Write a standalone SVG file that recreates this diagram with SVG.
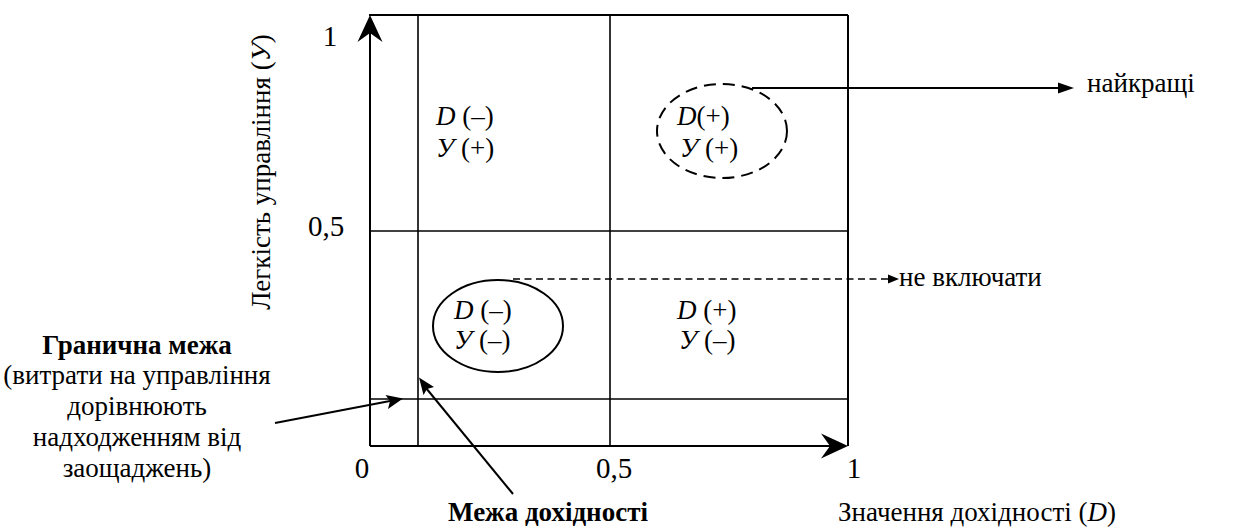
<svg xmlns="http://www.w3.org/2000/svg" width="1236" height="529" viewBox="0 0 1236 529" font-family="Liberation Serif, Times New Roman, serif">
<style>
text{font-size:27px;fill:#000}
.num{font-size:29px}
.b{font-weight:bold}
.i{font-style:italic}
.ax{stroke:#000;stroke-width:2;fill:none}
.g{stroke:#000;stroke-width:1.6;fill:none}
.c{stroke:#000;stroke-width:2;fill:none}
.hd{fill:#000;stroke:none}
</style>
<rect width="1236" height="529" fill="#fff"/>
<g id="axes">
<line class="ax" x1="370" y1="446" x2="370" y2="30"/>
<polygon class="hd" points="370,15 357.5,42 370,33 382.5,42"/>
<line class="ax" x1="370" y1="446" x2="832" y2="446"/>
<polygon class="hd" points="848,446 821,433.5 830,446 821,458.5"/>
<line class="ax" x1="369" y1="15" x2="848" y2="15"/>
<line class="ax" x1="848" y1="15" x2="848" y2="446"/>
</g>
<g id="grid">
<line class="g" x1="418" y1="15" x2="418" y2="446"/>
<line class="g" x1="610" y1="15" x2="610" y2="446"/>
<line class="g" x1="370" y1="231" x2="848" y2="231"/>
<line class="g" x1="370" y1="399" x2="848" y2="399"/>
</g>
<g id="tick-labels">
<text class="num" x="330" y="46" text-anchor="middle">1</text>
<text class="num" x="326" y="236" text-anchor="middle">0,5</text>
<text class="num" x="362" y="478" text-anchor="middle">0</text>
<text class="num" x="614" y="478" text-anchor="middle">0,5</text>
<text class="num" x="854" y="478" text-anchor="middle">1</text>
</g>
<g id="y-axis-label">
<text x="270" y="172" text-anchor="middle" transform="rotate(-90 270 172)">Легкість управління (<tspan class="i">У</tspan>)</text>
</g>
<g id="x-axis-label">
<text x="838" y="521">Значення дохідності (<tspan class="i">D</tspan>)</text>
</g>
<g id="cell-top-left">
<text x="436" y="125"><tspan class="i">D</tspan> (–)</text>
<text x="436" y="157"><tspan class="i">У</tspan> (+)</text>
</g>
<g id="cell-top-right">
<ellipse cx="722" cy="131" rx="65" ry="47" fill="none" stroke="#000" stroke-width="2" stroke-dasharray="12 7"/>
<text x="677" y="125"><tspan class="i">D</tspan>(+)</text>
<text x="680" y="157"><tspan class="i">У</tspan> (+)</text>
</g>
<g id="cell-bottom-left">
<ellipse cx="498" cy="326" rx="65" ry="46" fill="none" stroke="#000" stroke-width="2"/>
<text x="454" y="319"><tspan class="i">D</tspan> (–)</text>
<text x="454" y="349"><tspan class="i">У</tspan> (–)</text>
</g>
<g id="cell-bottom-right">
<text x="677" y="319"><tspan class="i">D</tspan> (+)</text>
<text x="679" y="349"><tspan class="i">У</tspan> (–)</text>
</g>
<g id="label-best">
<text x="1087" y="92">найкращі</text>
</g>
<g id="label-exclude">
<text x="899" y="286">не включати</text>
</g>
<g id="label-boundary">
<text class="b" x="137" y="354" text-anchor="middle">Гранична межа</text>
<text x="137" y="384" text-anchor="middle">(витрати на управління</text>
<text x="137" y="415" text-anchor="middle">дорівнюють</text>
<text x="137" y="446" text-anchor="middle">надходженням від</text>
<text x="137" y="477" text-anchor="middle">заощаджень)</text>
</g>
<g id="label-profit-limit">
<text class="b" x="448" y="521">Межа дохідності</text>
</g>
<g id="connectors">
<line class="c" x1="752" y1="88" x2="1060" y2="88"/>
<polygon class="hd" points="1074,88 1058,82.5 1058,93.5"/>
<line x1="513" y1="279" x2="890" y2="279" stroke="#000" stroke-width="1.6" stroke-dasharray="7 4.5"/>
<polygon class="hd" points="899,279 888,274.5 888,283.5"/>
<line class="c" x1="275" y1="423" x2="390" y2="401"/>
<polygon class="hd" points="403,398.5 385.5,395 390,401 388,409"/>
<line class="c" x1="513" y1="494" x2="426" y2="388"/>
<polygon class="hd" points="419,377.5 423.5,395 427,389 434,387"/>
</g>
</svg>
